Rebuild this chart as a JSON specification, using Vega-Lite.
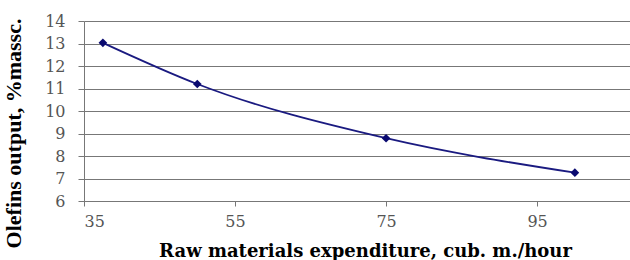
{
  "$schema": "https://vega.github.io/schema/vega-lite/v6.json",
  "autosize": {"type": "none"},
  "padding": {"left": 84, "top": 21, "right": 0, "bottom": 59},
  "width": 546,
  "height": 180,
  "background": "white",
  "config": {
    "view": {"stroke": null},
    "font": "Liberation Serif"
  },
  "data": {
    "values": [
      {"x": 37.5, "y": 13.03},
      {"x": 50, "y": 11.2},
      {"x": 75, "y": 8.79},
      {"x": 100, "y": 7.26}
    ]
  },
  "encoding": {
    "x": {
      "field": "x",
      "type": "quantitative",
      "scale": {"domain": [35, 107.3], "nice": false, "zero": false},
      "axis": {
        "values": [35, 55, 75, 95],
        "grid": false,
        "title": "Raw materials expenditure, cub. m./hour",
        "titleFont": "DejaVu Serif",
        "titleFontSize": 18,
        "titleFontWeight": "bold",
        "titleColor": "#000",
        "titleX": 281,
        "titleY": 50,
        "titleBaseline": "middle",
        "labelFont": "DejaVu Serif",
        "labelFontSize": 16,
        "labelColor": "#555",
        "labelPadding": 7,
        "domainColor": "#777",
        "tickColor": "#777",
        "tickSize": 5
      }
    },
    "y": {
      "field": "y",
      "type": "quantitative",
      "scale": {"domain": [6, 14], "nice": false, "zero": false},
      "axis": {
        "values": [6, 7, 8, 9, 10, 11, 12, 13, 14],
        "grid": true,
        "gridColor": "#777",
        "gridWidth": 1,
        "title": "Olefins output, %massc.",
        "titleFont": "Liberation Serif",
        "titleFontSize": 22,
        "titleFontWeight": "bold",
        "titleColor": "#000",
        "titleX": -71,
        "titleY": 112,
        "titleAngle": -90,
        "titleAlign": "center",
        "titleBaseline": "middle",
        "labelFont": "DejaVu Serif",
        "labelFontSize": 16,
        "labelColor": "#555",
        "labelPadding": 13,
        "domainColor": "#777",
        "tickColor": "#777",
        "tickSize": 6
      }
    }
  },
  "layer": [
    {
      "mark": {"type": "line", "interpolate": "monotone", "color": "#1a1a80", "strokeWidth": 1.8}
    },
    {
      "mark": {"type": "point", "shape": "diamond", "filled": true, "color": "#0a0a70", "size": 75, "opacity": 1}
    }
  ]
}
